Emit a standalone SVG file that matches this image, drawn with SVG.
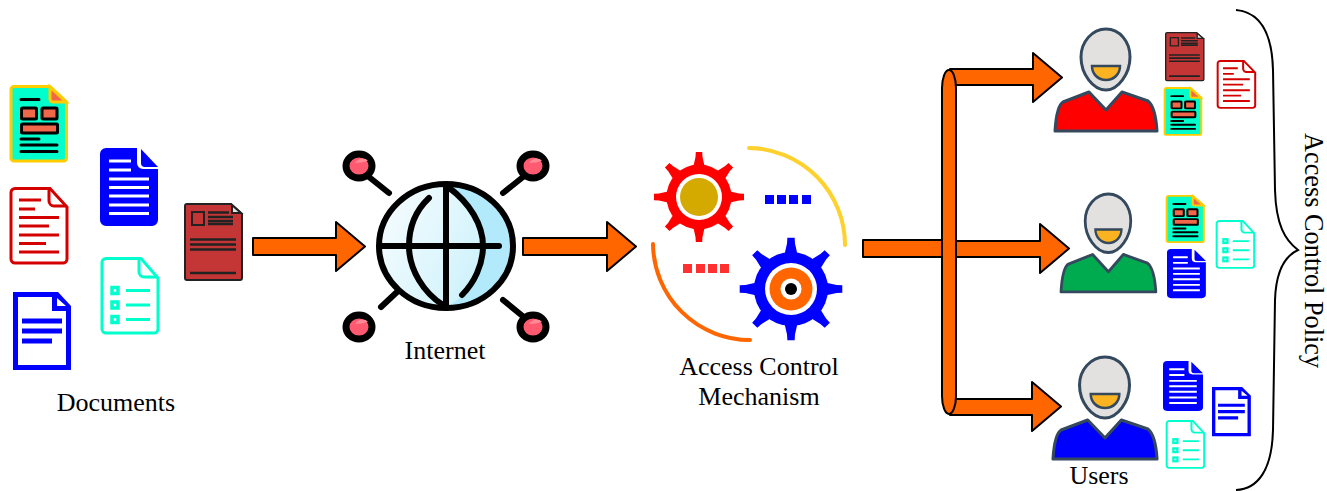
<svg xmlns="http://www.w3.org/2000/svg" xmlns:xlink="http://www.w3.org/1999/xlink" width="1327" height="491" viewBox="0 0 1327 491">
<style>
text{font-family:"Liberation Serif","Times New Roman",serif;font-size:26px;fill:#000}
.arrow{fill:#ff6600;stroke:#000;stroke-width:2;stroke-linejoin:round}
.k{stroke:#000;stroke-width:6;fill:none;stroke-linecap:round}
.pin{fill:#ff5a70;stroke:#000;stroke-width:7}
.sheen{fill:#ff8a96}
.hd{fill:#e2e1df;stroke:#34495e;stroke-width:3}
</style>
<defs>
<linearGradient id="globeFill" x1="0" y1="0.2" x2="1" y2="0.7">
<stop offset="0" stop-color="#f6fcfe"/><stop offset="1" stop-color="#c6f0fb"/>
</linearGradient>
<g id="docA">
<path d="M4,1.5H40L56.5,17V73a3,3 0 0 1-3,3H4a3,3 0 0 1-3-3V4.500a3,3 0 0 1 3-3Z" fill="#00ffcc" stroke="#ffcc00" stroke-width="3"/>
<path d="M40,2V14a3,3 0 0 0 3,3H56Z" fill="#f0674a" stroke="#ffcc00" stroke-width="3"/>
<g fill="#f0674a" stroke="#000" stroke-width="3"><rect x="11.500" y="23" width="15" height="11" rx="1"/><rect x="32" y="23" width="15" height="11" rx="1"/><rect x="11.500" y="39" width="36" height="9" rx="1"/></g>
<path d="M11,14.500H29M11,54H29M11,60H47M11,66.500H47" stroke="#000" stroke-width="3" stroke-linecap="round"/>
</g>
<g id="docB">
<path d="M5,1.500H40L57,20V72a4,4 0 0 1-4,4H5a4,4 0 0 1-4-4V5.500a4,4 0 0 1 4-4Z" fill="#fff" stroke="#d40000" stroke-width="3"/>
<path d="M39,2V14a5,5 0 0 0 5,5H56" fill="none" stroke="#d40000" stroke-width="3"/>
<path d="M9,13H31M9,22H25M9,30.500H49M9,39H39M9,48H49M9,56.500H36M9,65H49" stroke="#d40000" stroke-width="3"/>
</g>
<g id="docC">
<path d="M6,0H37V15a6,6 0 0 0 6,6H58V72a6,6 0 0 1-6,6H6a6,6 0 0 1-6-6V6a6,6 0 0 1 6-6Z" fill="#0000ff"/>
<path d="M41,1L58,19H45a4,4 0 0 1-4-4Z" fill="#0000ff"/>
<path d="M9,13H31M9,22H31M9,31H49M9,39.500H49M9,48H49M9,57H49M9,65.500H49" stroke="#fff" stroke-width="3"/>
</g>
<g id="docD">
<path d="M5,1.500H40L57,21V72a4,4 0 0 1-4,4H5a4,4 0 0 1-4-4V5.500a4,4 0 0 1 4-4Z" fill="#fff" stroke="#00ffcc" stroke-width="3"/>
<path d="M38,2V15a5,5 0 0 0 5,5H57" fill="none" stroke="#00ffcc" stroke-width="3"/>
<g fill="#fff" stroke="#00ffcc" stroke-width="3.500"><rect x="11" y="30.500" width="6" height="6"/><rect x="11" y="45" width="6" height="6"/><rect x="11" y="59.500" width="6" height="6"/></g>
<path d="M25,33.500H49M25,48H49M25,62.500H49" stroke="#00ffcc" stroke-width="3"/>
</g>
<g id="docE">
<path d="M0,0H45L58,14V78H0Z" fill="#0000ff"/>
<path d="M5,5H39V19H53V73H5Z" fill="#fff"/>
<path d="M44,6L53,14H44Z" fill="#fff"/>
<path d="M9,29H49M9,39H49M9,49H39" stroke="#0000ff" stroke-width="5"/>
</g>
<g id="docF">
<path d="M3,1H47L58,11V75a2,2 0 0 1-2,2H3a2,2 0 0 1-2-2V3a2,2 0 0 1 2-2Z" fill="#c43636" stroke="#222" stroke-width="2"/>
<path d="M48,2V10H57Z" fill="#e6e6e6" stroke="#222" stroke-width="2"/>
<rect x="8" y="9" width="12" height="13" fill="none" stroke="#222" stroke-width="2"/>
<path d="M24,9.500H45M24,14H49M24,18H49M24,21H49M6,36.500H52M6,41.500H52M6,46.500H52M6,70H52" stroke="#222" stroke-width="2.500" fill="none"/>
</g>
<g id="person">
<path d="M0,102C1,86 3,76 8,73L34,63L51,81L67,63L93,72C98,76 101,86 102,102Z" stroke="#34495e" stroke-width="3" stroke-linejoin="round"/>
<path d="M51,0C37,0 26,13 26,28C26,45 38,61 51,61C63,61 75,45 75,28C75,13 65,0 51,0Z" class="hd"/>
<path d="M37,37H65C65,45 59,51 51,51C43,51 37,45 37,37Z" fill="#fbb321" stroke="#34495e" stroke-width="2.500"/>
</g>
<path id="tooth" d="M-6,-29L-3.500,-40L-3.200,-45H3.200L3.500,-40L6,-29Z"/>
<g id="gear">
<circle r="32.500"/>
<use xlink:href="#tooth"/><use xlink:href="#tooth" transform="rotate(45)"/><use xlink:href="#tooth" transform="rotate(90)"/><use xlink:href="#tooth" transform="rotate(135)"/><use xlink:href="#tooth" transform="rotate(180)"/><use xlink:href="#tooth" transform="rotate(225)"/><use xlink:href="#tooth" transform="rotate(270)"/><use xlink:href="#tooth" transform="rotate(315)"/>
</g>
<g id="pinHead">
<ellipse class="pin" rx="13" ry="12"/>
<path class="sheen" d="M-4,-3C-1,-8 6,-9 9,-5C5,-4 0,-3 -4,-3Z"/>
</g>
</defs>
<rect width="1327" height="491" fill="#fff"/>

<g id="connectors">
<path class="arrow" d="M253,238H336V222L365,246.500L336,271V255H253Z"/>
<path class="arrow" d="M523,238H607V222L636,246.500L607,271V255H523Z"/>
<rect class="arrow" x="863" y="240" width="80" height="17"/>
<path class="arrow" d="M950,69H1033V53L1062,77.500L1033,102V85H950Z"/>
<path class="arrow" d="M955,241H1040V224L1069,248.500L1040,273V257H955Z"/>
<path class="arrow" d="M950,399H1032V382L1061,406.500L1032,431V415H950Z"/>
<rect class="arrow" x="942" y="70" width="14" height="344" rx="7" ry="18"/>
</g>

<g id="documents">
<use xlink:href="#docA" transform="translate(10,85)"/>
<use xlink:href="#docB" transform="translate(10,187)"/>
<use xlink:href="#docE" transform="translate(13,292)"/>
<use xlink:href="#docC" transform="translate(100,148)"/>
<use xlink:href="#docD" transform="translate(101,257)"/>
<use xlink:href="#docF" transform="translate(184,203)"/>
<text x="116" y="411" text-anchor="middle">Documents</text>
</g>

<g id="internet">
<path class="k" d="M369,177L389,193M523,177L503,193M397,292L381,307M503,300L525,318"/>
<ellipse cx="446" cy="246" rx="67" ry="62" fill="url(#globeFill)" stroke="none"/>
<path d="M450,187C470,203 483,225 483,246C483,270 470,293 450,305C490,305 512,275 512,246C512,215 490,187 450,187Z" fill="#b2eafb"/>
<ellipse cx="446" cy="246" rx="67" ry="62" fill="none" stroke="#000" stroke-width="6"/>
<path class="k" d="M446,186V306M382,246H499M429,198C414,212 409,230 409,246C409,270 424,293 443,305M448,187C470,203 483,225 483,246C483,265 474,283 462,295"/>
<use xlink:href="#pinHead" transform="translate(359,166)"/>
<use xlink:href="#pinHead" transform="translate(533,166)"/>
<use xlink:href="#pinHead" transform="translate(359,327)"/>
<use xlink:href="#pinHead" transform="translate(533,327)"/>
<text x="445" y="359" text-anchor="middle">Internet</text>
</g>

<g id="access-control">
<path d="M749,148A97,97 0 0 1 845,245" fill="none" stroke="#ffd12e" stroke-width="4" stroke-linecap="round"/>
<path d="M653,244A97,97 0 0 0 750,340" fill="none" stroke="#ff6600" stroke-width="4" stroke-linecap="round"/>
<use xlink:href="#gear" transform="translate(699,197)" fill="#ff0000"/>
<circle cx="699" cy="197" r="23" fill="#fff"/><circle cx="699" cy="197" r="19" fill="#d4a900"/>
<use xlink:href="#gear" transform="translate(791,289) scale(1.14)" fill="#0000ff"/>
<circle cx="791" cy="289" r="26" fill="#fff"/><circle cx="791" cy="289" r="21.500" fill="#ff6600"/><circle cx="791" cy="289" r="10.500" fill="#fff"/><circle cx="791" cy="289" r="6" fill="#000"/>
<g fill="#0000ff"><rect x="765" y="195" width="9" height="9"/><rect x="777" y="195" width="9" height="9"/><rect x="789" y="195" width="9" height="9"/><rect x="802" y="195" width="9" height="9"/></g>
<g fill="#ff3030"><rect x="683" y="264" width="9" height="9"/><rect x="696" y="264" width="9" height="9"/><rect x="708" y="264" width="9" height="9"/><rect x="720" y="264" width="9" height="9"/></g>
<text x="759" y="375" text-anchor="middle">Access Control</text>
<text x="759" y="405" text-anchor="middle">Mechanism</text>
</g>

<g id="user-1">
<use xlink:href="#person" transform="translate(1055,29)" fill="#ff0000"/>
<use xlink:href="#docF" transform="translate(1165,32) scale(.67,.63)"/>
<use xlink:href="#docA" transform="translate(1164,87) scale(.66,.63)"/>
<use xlink:href="#docB" transform="translate(1217,60) scale(.67,.63)"/>
</g>
<g id="user-2">
<use xlink:href="#person" transform="translate(1061,194) scale(.93,.96)" fill="#00ab50"/>
<use xlink:href="#docA" transform="translate(1166,195) scale(.67,.62)"/>
<use xlink:href="#docC" transform="translate(1167,249) scale(.67,.63)"/>
<use xlink:href="#docD" transform="translate(1216,220) scale(.67,.63)"/>
</g>
<g id="user-3">
<use xlink:href="#person" transform="translate(1053,357) scale(1.02,1)" fill="#0000ff"/>
<use xlink:href="#docC" transform="translate(1163,361) scale(.69,.64)"/>
<use xlink:href="#docE" transform="translate(1212,387) scale(.67,.63)"/>
<use xlink:href="#docD" transform="translate(1166,420) scale(.67,.63)"/>
<text x="1099" y="484" text-anchor="middle">Users</text>
</g>

<g id="policy">
<path d="M1236,10C1258,12 1272,30 1273,70L1275,190C1276,225 1285,240 1298,250C1285,256 1276,270 1275,300L1273,430C1272,470 1258,489 1236,490" fill="none" stroke="#000" stroke-width="2"/>
<text transform="translate(1305,133) rotate(90)" style="font-size:26.300px">Access Control Policy</text>
</g>
</svg>
